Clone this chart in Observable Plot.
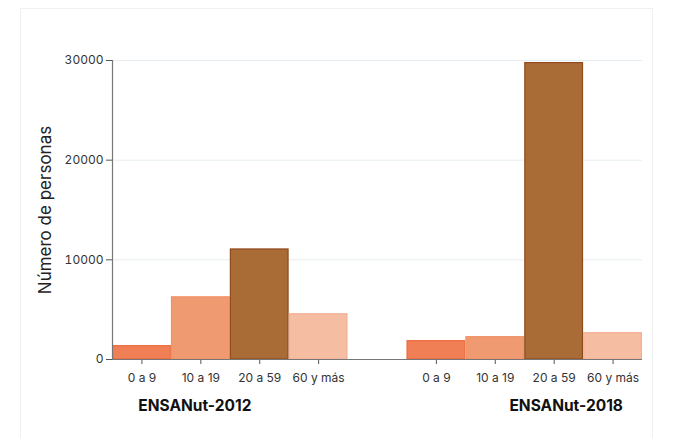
<!DOCTYPE html>
<html>
<head>
<meta charset="utf-8">
<script src="https://cdn.jsdelivr.net/npm/d3@7"></script>
<script src="https://cdn.jsdelivr.net/npm/@observablehq/plot@0.6"></script>
<style>
  html, body { margin: 0; padding: 0; background: #fff; }
  #wrap { position: relative; width: 683px; height: 438px; overflow: hidden; }
  #box { position: absolute; left: 20px; top: 8px; width: 633px; height: 460px; border: 1px solid #eef0f2; box-sizing: border-box; pointer-events: none; }
  svg { font-family: Inter, "Open Sans", sans-serif; }
</style>
</head>
<body>
<div id="wrap"><div id="box"></div><div id="chart"></div></div>
<script>
const surveys = ["ENSANut-2012", "ENSANut-2018"];
const ageGroups = ["0 a 9", "10 a 19", "20 a 59", "60 y más"];
const values2012 = [1400, 6300, 11100, 4600];
const values2018 = [1900, 2300, 29800, 2700];
const fills = ["#f07f56", "#f09a72", "#a96c37", "#f5bda2"];
const strokes = ["#ec6c3d", "#f09268", "#8e4a1a", "#f3b093"];
const yTicks = [0, 10000, 20000, 30000];

const seriesValues = [values2012, values2018];
const data = [];
surveys.forEach((s, si) => {
  ageGroups.forEach((a, ai) => {
    data.push({key: s + "|" + a, survey: s, age: a, value: seriesValues[si][ai], fill: fills[ai], stroke: strokes[ai]});
  });
});
const domain = [...ageGroups.map(a => surveys[0] + "|" + a), "gap", ...ageGroups.map(a => surveys[1] + "|" + a)];

const chart = Plot.plot({
  width: 683,
  height: 438,
  marginLeft: 112,
  marginRight: 41,
  marginTop: 60,
  marginBottom: 79,
  style: {fontFamily: "Inter, 'Open Sans', sans-serif", fontSize: "12px", color: "#333", background: "transparent"},
  x: {domain, paddingInner: 0, paddingOuter: 0, round: false, label: null},
  y: {domain: [0, 30000], label: null},
  marks: [
    Plot.gridY(yTicks, {stroke: "#e6edf2", strokeOpacity: 1}),
    Plot.barY(data, {x: "key", y: "value", fill: d => d.fill, stroke: d => d.stroke, strokeWidth: 1.2, insetLeft: 0.6, insetRight: 0.6, insetTop: 0.6}),
    Plot.axisX(domain.filter(d => d !== "gap"), {tickFormat: d => d.split("|")[1], tickSize: 5, tickPadding: 9, stroke: "#555", fill: "#333", fontSize: 12, label: null}),
    Plot.axisY(yTicks, {tickFormat: d => String(d), tickSize: 6, tickPadding: 3, stroke: "#555", fill: "#333", fontSize: 12, label: null}),
    Plot.ruleY([0], {stroke: "#777", strokeWidth: 1.2}),
    Plot.frame({anchor: "left", stroke: "#777", strokeWidth: 1.2}),
    Plot.text([{key: domain[1], text: surveys[0]}], {x: "key", y: () => 0, text: "text", dx: -6, dy: 47, fontWeight: "bold", fontSize: 15.5, fill: "#111"}),
    Plot.text([{key: domain[7], text: surveys[1]}], {x: "key", y: () => 0, text: "text", dx: 12, dy: 47, fontWeight: "bold", fontSize: 15.5, fill: "#111"}),
    Plot.text(["Número de personas"], {frameAnchor: "left", textAnchor: "middle", rotate: -90, dx: -67, fontSize: 17, fill: "#222"})
  ]
});
document.getElementById("chart").appendChild(chart);
</script>
</body>
</html>
